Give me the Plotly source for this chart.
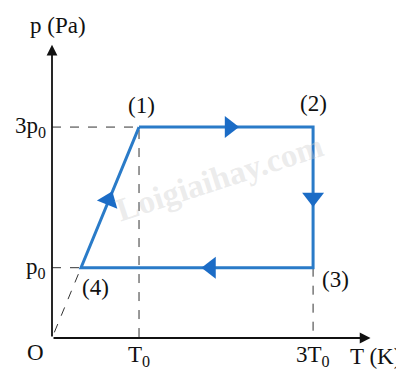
import plotly.graph_objects as go

# cycle states (1) -> (2) -> (3) -> (4), T in units of T0, p in units of p0
state_names = ["(1)", "(2)", "(3)", "(4)"]
T_vals = [1, 3, 3, 1 / 3]
p_vals = [3, 3, 1, 1]

x_ticks = [1, 3]
x_tick_labels = ["T<sub>0</sub>", "3T<sub>0</sub>"]
y_ticks = [1, 3]
y_tick_labels = ["p<sub>0</sub>", "3p<sub>0</sub>"]

BLUE = "#2a7bc8"
ARROW_BLUE = "#1b6cc6"
SERIF = "Liberation Serif, Times New Roman, serif"
TXT = dict(family=SERIF, size=23, color="#111")

fig = go.Figure()

# dashed guide lines
dash = dict(color="#333", width=1, dash="dash")
i1, i3, i4 = 0, 2, 3
fig.add_trace(go.Scatter(x=[0, T_vals[i1], T_vals[i1]], y=[p_vals[i1], p_vals[i1], 0],
                         mode="lines", line=dash, hoverinfo="skip"))
fig.add_trace(go.Scatter(x=[T_vals[i3], T_vals[i3]], y=[p_vals[i3], 0],
                         mode="lines", line=dash, hoverinfo="skip"))
fig.add_trace(go.Scatter(x=[0, T_vals[i4], 0], y=[p_vals[i4], p_vals[i4], 0],
                         mode="lines", line=dash, hoverinfo="skip"))

# cycle
fig.add_trace(go.Scatter(x=T_vals + [T_vals[0]], y=p_vals + [p_vals[0]],
                         mode="lines", line=dict(color=BLUE, width=3)))

# direction arrows placed along each segment
fracs = [0.52, 0.5, 0.44, 0.48]
angles = [90, 180, 270, 21.6]
ax, ay = [], []
n = len(T_vals)
for k in range(n):
    a, b = k, (k + 1) % n
    f = fracs[k]
    ax.append(T_vals[a] + f * (T_vals[b] - T_vals[a]))
    ay.append(p_vals[a] + f * (p_vals[b] - p_vals[a]))
fig.add_trace(go.Scatter(x=ax, y=ay, mode="markers",
                         marker=dict(symbol="triangle-up", size=19, color=ARROW_BLUE,
                                     angle=angles, line=dict(width=0))))

# axes with arrowheads
XMAX, YMAX = 3.7, 4.21
for (x1, y1) in [(3.66, 0), (0, 4.17)]:
    fig.add_annotation(x=x1, y=y1, ax=0, ay=0, xref="x", yref="y", axref="x", ayref="y",
                       showarrow=True, arrowhead=2, arrowsize=1.2, arrowwidth=1.8,
                       arrowcolor="#111", text="")

# state labels
offsets = [(2, 22), (0, 24), (22, -12), (14, -20)]
for name, t, p, (dx, dy) in zip(state_names, T_vals, p_vals, offsets):
    fig.add_annotation(x=t, y=p, text=name, showarrow=False, xshift=dx, yshift=dy, font=TXT)

# tick labels
for t, lab in zip(x_ticks, x_tick_labels):
    fig.add_annotation(x=t, y=0, text=lab, showarrow=False, yshift=-18, font=TXT)
for p, lab in zip(y_ticks, y_tick_labels):
    fig.add_annotation(x=0, y=p, text=lab, showarrow=False, xanchor="right", xshift=-4, font=TXT)
fig.add_annotation(x=0, y=0, text="O", showarrow=False, xanchor="right", xshift=-6, yshift=-14,
                   font=TXT)
fig.add_annotation(x=3.66, y=0, text="T (K)", showarrow=False, xanchor="center", xshift=5, yshift=-18,
                   font=TXT)
fig.add_annotation(x=0, y=4.17, text="p (Pa)", showarrow=False, yanchor="bottom", xshift=6, yshift=5,
                   font=TXT)

# watermark
fig.add_annotation(x=0.52, y=0.54, xref="paper", yref="paper", text="<b>Loigiaihay.com</b>",
                   showarrow=False, textangle=-18,
                   font=dict(family=SERIF, size=33, color="rgba(205,205,205,0.4)"))

# page body adds an 8px margin, so the figure is drawn 8px smaller
fig.update_layout(
    width=396, height=366,
    margin=dict(l=44, r=30, t=34, b=36),
    plot_bgcolor="white", paper_bgcolor="white",
    showlegend=False,
    xaxis=dict(range=[0, XMAX], visible=False, fixedrange=True),
    yaxis=dict(range=[0, YMAX], visible=False, fixedrange=True),
)

fig.write_html("out.html")
